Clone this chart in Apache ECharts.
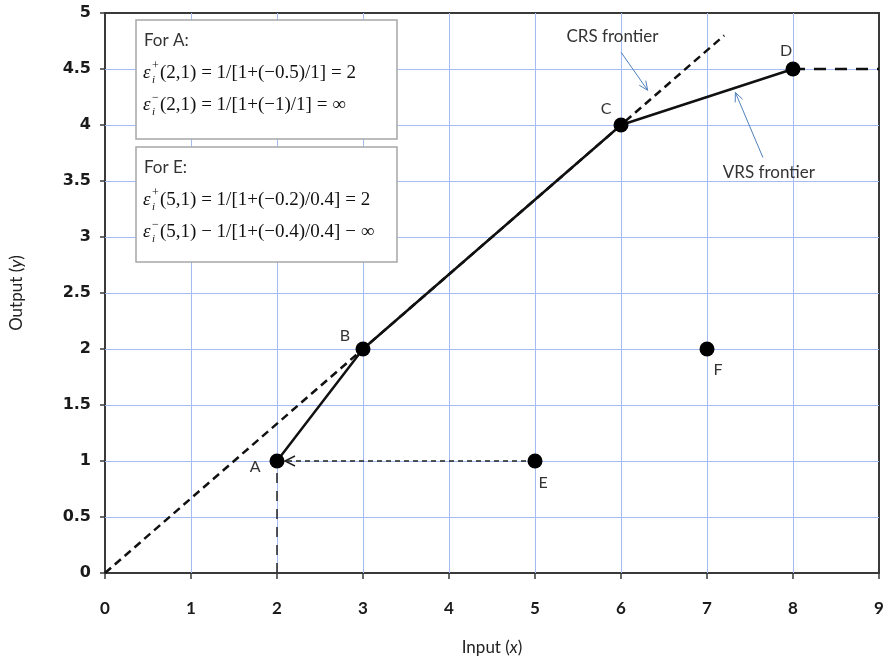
<!DOCTYPE html>
<html>
<head>
<meta charset="utf-8">
<script src="https://cdn.jsdelivr.net/npm/echarts@6/dist/echarts.min.js"></script>
<style>
  html, body { margin: 0; padding: 0; background: #fff; }
  #chart { width: 887px; height: 661px; }
</style>
</head>
<body>
<div id="chart"></div>
<script>
// Decision-making units: input x and output y
const pointNames = ['A', 'B', 'C', 'D', 'E', 'F'];
const inputX = [2, 3, 6, 8, 5, 7];
const outputY = [1, 2, 4, 4.5, 1, 2];

// VRS frontier passes through A, B, C, D
const vrsUnits = ['A', 'B', 'C', 'D'];
// CRS frontier: ray from the origin through B and C
const crsX = [0, 7.2];
const crsY = [0, 4.8];
// Horizontal extension of the VRS frontier beyond D
const vrsTailX = [8, 9];
const vrsTailY = [4.5, 4.5];
// Projection of E onto A, and drop line from A to the x axis
const projX = [5, 2];
const projY = [1, 1];
const dropX = [2, 2];
const dropY = [0, 1];

const xTicks = [0, 1, 2, 3, 4, 5, 6, 7, 8, 9];
const yTicks = [0, 0.5, 1, 1.5, 2, 2.5, 3, 3.5, 4, 4.5, 5];

// Label placement per unit (position and pixel nudge)
const labelPos = {
  A: { position: 'left', offset: [-3, 6] },
  B: { position: 'top', offset: [-18, 8] },
  C: { position: 'top', offset: [-15, 5] },
  D: { position: 'top', offset: [-7, 3] },
  E: { position: 'bottom', offset: [8, 0] },
  F: { position: 'bottom', offset: [11, -1] }
};

const labelFont = 'Lato, "Open Sans", sans-serif';
const idx = n => pointNames.indexOf(n);
const pair = (xs, ys) => xs.map((x, i) => [x, ys[i]]);

const chart = echarts.init(document.getElementById('chart'));

const pointData = pointNames.map((n, i) => ({
  value: [inputX[i], outputY[i]],
  name: n,
  label: Object.assign({ show: true, formatter: n }, labelPos[n])
}));

const gridBlue = '#a3bcf3';

chart.setOption({
  animation: false,
  backgroundColor: '#ffffff',
  grid: {
    left: 105, right: 8, top: 13, bottom: 88,
    show: true, borderColor: '#3a3a3a', borderWidth: 2, backgroundColor: 'transparent'
  },
  xAxis: {
    type: 'value', min: 0, max: 9, interval: 1,
    name: '{n|Input (}{i|x}{n|)}',
    nameLocation: 'middle', nameGap: 66,
    nameTextStyle: {
      rich: {
        n: { fontFamily: labelFont, fontSize: 17, color: '#222' },
        i: { fontFamily: labelFont, fontSize: 17, color: '#222', fontStyle: 'italic' }
      }
    },
    axisLine: { show: true, onZero: false, lineStyle: { color: '#3a3a3a', width: 2 } },
    axisTick: { show: true, inside: false, length: 6, lineStyle: { color: '#3a3a3a', width: 1.5 } },
    axisLabel: {
      margin: 27, color: '#1a1a1a', fontFamily: labelFont, fontWeight: 'bold', fontSize: 17,
      formatter: v => xTicks.includes(v) ? String(v) : ''
    },
    splitLine: { show: false }
  },
  yAxis: {
    type: 'value', min: 0, max: 5, interval: 0.5,
    name: '{n|Output (}{i|y}{n|)}',
    nameLocation: 'middle', nameGap: 80, nameRotate: 90,
    nameTextStyle: {
      rich: {
        n: { fontFamily: labelFont, fontSize: 17, color: '#222' },
        i: { fontFamily: labelFont, fontSize: 17, color: '#222', fontStyle: 'italic' }
      }
    },
    axisLine: { show: true, onZero: false, lineStyle: { color: '#3a3a3a', width: 2 } },
    axisTick: { show: true, inside: false, length: 5, lineStyle: { color: '#3a3a3a', width: 1.5 } },
    axisLabel: {
      margin: 14, color: '#1a1a1a', fontFamily: '"DejaVu Sans", Verdana, sans-serif', fontWeight: 'bold', fontSize: 16,
      formatter: v => yTicks.includes(v) ? String(v) : ''
    },
    splitLine: { show: false }
  },
  series: [
    {
      // Light blue gridlines at every x and y tick
      name: 'grid lines', type: 'line', data: [], symbol: 'none', silent: true, z: 1,
      markLine: {
        silent: true, symbol: ['none', 'none'], animation: false, z: 1,
        label: { show: false },
        lineStyle: { color: gridBlue, width: 1, type: 'solid', opacity: 1 },
        emphasis: { disabled: true },
        data: xTicks.slice(1, -1).map(v => ({ xAxis: v }))
          .concat(yTicks.slice(1, -1).map(v => ({ yAxis: v })))
      }
    },
    {
      name: 'CRS frontier', type: 'line', data: pair(crsX, crsY),
      symbol: 'none', z: 3,
      lineStyle: { color: '#111', width: 2.5, type: [8, 5] }
    },
    {
      name: 'VRS tail', type: 'line', data: pair(vrsTailX, vrsTailY),
      symbol: 'none', z: 3,
      lineStyle: { color: '#111', width: 2.5, type: [12, 9] }
    },
    {
      name: 'Drop A', type: 'line', data: pair(dropX, dropY),
      symbol: 'none', z: 3,
      lineStyle: { color: '#222', width: 1.5, type: [10, 8] }
    },
    {
      name: 'Projection E to A', type: 'line', data: pair(projX, projY),
      symbol: 'none', z: 3,
      lineStyle: { color: '#222', width: 1.5, type: [5, 4] }
    },
    {
      name: 'VRS frontier', type: 'line',
      data: vrsUnits.map(n => [inputX[idx(n)], outputY[idx(n)]]),
      symbol: 'none', z: 4,
      lineStyle: { color: '#111', width: 2.5 }
    },
    {
      name: 'Units', type: 'scatter', data: pointData,
      symbolSize: 15, z: 5,
      itemStyle: { color: '#000', opacity: 1 },
      label: { color: '#333', fontFamily: labelFont, fontSize: 16, distance: 6 }
    }
  ]
});

// Annotations placed in data coordinates, then converted to pixels
const px = (x, y) => chart.convertToPixel({ gridIndex: 0 }, [x, y]);

function arrowHead(tip, from, len, spread, color, width) {
  const dx = tip[0] - from[0], dy = tip[1] - from[1];
  const d = Math.hypot(dx, dy);
  const ux = dx / d, uy = dy / d;
  const bx = tip[0] - ux * len, by = tip[1] - uy * len;
  return {
    type: 'polyline',
    shape: { points: [[bx - uy * spread, by + ux * spread], tip, [bx + uy * spread, by - ux * spread]] },
    style: { stroke: color, lineWidth: width, fill: null },
    z: 10
  };
}

function callout(text, textAt, from, to) {
  const t = px(textAt[0], textAt[1]);
  const a = px(from[0], from[1]);
  const b = px(to[0], to[1]);
  return [
    {
      type: 'text', x: t[0], y: t[1], z: 10,
      style: { text, fill: '#333', font: '17px ' + labelFont, textAlign: 'center', textVerticalAlign: 'middle' }
    },
    { type: 'line', shape: { x1: a[0], y1: a[1], x2: b[0], y2: b[1] }, style: { stroke: '#4f81bd', lineWidth: 1 }, z: 10 },
    arrowHead(b, a, 9, 4, '#4f81bd', 1)
  ];
}

// Formula text: epsilon with stacked superscript and subscript, then the rest
function formula(x, y, sign, rest) {
  const serif = '"Liberation Serif", "Times New Roman", serif';
  return [
    { type: 'text', x: x, y: y, style: { text: 'ε', font: 'italic 19px ' + serif, fill: '#111', textVerticalAlign: 'middle' } },
    { type: 'text', x: x + 9, y: y - 7, style: { text: sign, font: '12px ' + serif, fill: '#111', textVerticalAlign: 'middle' } },
    { type: 'text', x: x + 9, y: y + 7, style: { text: 'i', font: 'italic 11px ' + serif, fill: '#111', textVerticalAlign: 'middle' } },
    { type: 'text', x: x + 17, y: y, style: { text: rest, font: '19px ' + serif, fill: '#111', textVerticalAlign: 'middle' } }
  ];
}

function box(x, y, w, h, title, lines) {
  const items = [
    { type: 'rect', shape: { x, y, width: w, height: h }, style: { fill: '#fff', stroke: '#a6a6a6', lineWidth: 1.5 }, z: 8 },
    { type: 'text', x: x + 8, y: y + 21, z: 9, style: { text: title, font: '17px ' + labelFont, fill: '#333', textVerticalAlign: 'middle' } }
  ];
  lines.forEach((ln, k) => {
    formula(x + 7, y + 53 + k * 32, ln[0], ln[1]).forEach(e => { e.z = 9; items.push(e); });
  });
  return items;
}

const graphics = []
  .concat(box(136, 20, 261, 119, 'For A:', [
    ['+', '(2,1) = 1/[1+(−0.5)/1] = 2'],
    ['−', '(2,1) = 1/[1+(−1)/1] = ∞']
  ]))
  .concat(box(136, 147, 261, 115, 'For E:', [
    ['+', '(5,1) = 1/[1+(−0.2)/0.4] = 2'],
    ['−', '(5,1) − 1/[1+(−0.4)/0.4] − ∞']
  ]))
  .concat(callout('CRS frontier', [5.9, 4.79], [6.0, 4.65], [6.31, 4.31]))
  .concat(callout('VRS frontier', [7.72, 3.58], [7.65, 3.71], [7.33, 4.29]));

// Open arrowhead at A on the projection from E
const aPix = px(projX[1], projY[1]);
const ePix = px(projX[0], projY[0]);
graphics.push(arrowHead([aPix[0] + 8, aPix[1]], ePix, 10, 5, '#222', 1.5));

chart.setOption({ graphic: graphics });
</script>
</body>
</html>
